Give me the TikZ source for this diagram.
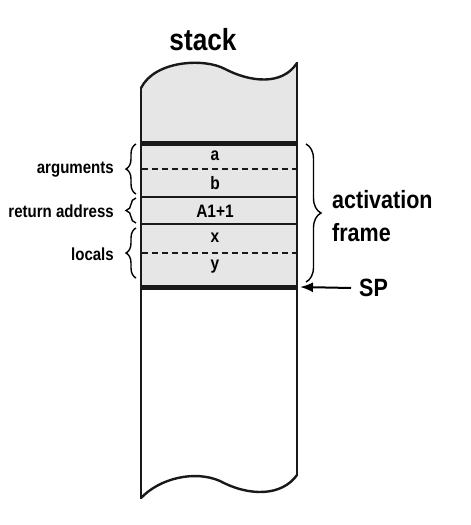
\documentclass[tikz,border=0pt]{standalone}
\usepackage{fontspec}
\setmainfont{Liberation Sans}[FakeStretch=0.86]
\usetikzlibrary{decorations.pathreplacing,arrows.meta}
\definecolor{cellgray}{RGB}{230,230,230}
\tikzset{
  outline/.style={line width=2.4pt, draw=black!90},
  thick sep/.style={line width=5pt, draw=black!90},
  thin sep/.style={line width=2pt, draw=black!90},
  dash sep/.style={line width=2pt, draw=black!90, dash pattern=on 6pt off 4pt},
  celltext/.style={font=\bfseries\fontsize{18}{20}\selectfont, inner sep=0pt},
  sidetext/.style={font=\bfseries\fontsize{17.5}{20}\selectfont, inner sep=0pt, anchor=east},
  bigtext/.style={font=\bfseries\fontsize{25}{33}\selectfont, inner sep=0pt},
  bracestyle/.style={line width=1.4pt, decorate, decoration={brace, amplitude=#1}},
}
\begin{document}
\begin{tikzpicture}[x=1pt,y=-1pt]
\useasboundingbox (0,0) rectangle (471,525);
% gray upper part
\fill[cellgray] (141,88) .. controls (155,60) and (205,58) .. (225,69)
  .. controls (250,82) and (282,86) .. (297,63) -- (297,287) -- (141,287) -- cycle;
% outline
\draw[outline] (141,88) .. controls (155,60) and (205,58) .. (225,69)
  .. controls (250,82) and (282,86) .. (297,63);
\draw[outline] (141,498) .. controls (160,478) and (195,470) .. (220,481)
  .. controls (250,497) and (282,496) .. (297,475);
\draw[outline] (141,87) -- (141,499);
\draw[outline] (297,62) -- (297,476);
% separators
\draw[thick sep] (141,143) -- (297,143);
\draw[dash sep] (142,169) -- (297,169);
\draw[thin sep] (141,197) -- (297,197);
\draw[thin sep] (141,224) -- (297,224);
\draw[dash sep] (142,253) -- (297,253);
\draw[thick sep] (141,287) coordinate (spl) -- (297,287) coordinate (spr);
\coordinate (spend) at (300,287);
% cell texts
\node[celltext] (ca) at (215,156) {a};
\node[celltext] (cb) at (215,183) {b};
\node[celltext] (cr) at (215,211) {A1+1};
\node[celltext] (cx) at (215,238) {x};
\node[celltext] (cy) at (215,267) {y};
% title
\node[bigtext, font=\bfseries\fontsize{30.5}{36}\selectfont] (title) at (203,40) {stack};
% left braces
\draw[bracestyle=10pt] (136,194) -- (136,144);
\draw[bracestyle=10pt] (136,223) -- (136,198);
\draw[bracestyle=10pt] (136,278) -- (136,228);
\node[sidetext] (args) at (114,170) {arguments};
\node[sidetext] (ret) at (114,211) {return address};
\node[sidetext] (loc) at (114,254) {locals};
% right brace
\draw[bracestyle=15pt] (306,144) -- (306,282);
\node[bigtext, align=left, anchor=west] (act) at (332,216) {activation\\frame};
% SP
\node[bigtext, anchor=west] (sp) at (359,288) {SP};
\draw[line width=2pt, -{Latex[length=13pt,width=10pt]}] ([xshift=-8pt]sp.west) -- (spend);
\end{tikzpicture}
\end{document}
